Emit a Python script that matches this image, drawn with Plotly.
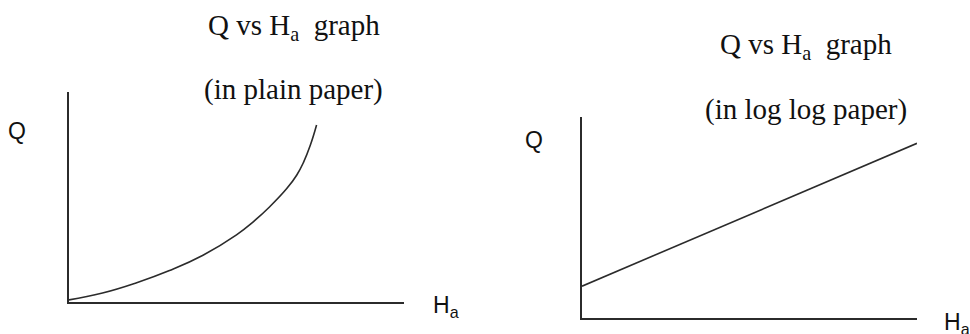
import plotly.graph_objects as go

# Discharge Q against head H_a, drawn on plain paper (curve) and on log-log paper (straight line)
plain_head = [0.0, 1.0, 2.0, 3.0, 4.0, 5.0, 5.5, 6.0, 6.5, 6.8, 7.0, 7.2, 7.39]
plain_discharge = [0.10, 0.43, 0.91, 1.50, 2.23, 3.20, 3.82, 4.55, 5.40, 6.05, 6.65, 7.45, 8.43]

loglog_head = [1.0, 10.0]
loglog_discharge = [1.44, 7.40]

W, H = 970, 334
INK = "#2b2b2b"
SERIF = "Liberation Serif, Times New Roman, serif"
SANS = "Liberation Sans, Arial, sans-serif"


def px_x(x):
    return x / W


def px_y(y):
    return 1 - y / H


fig = go.Figure()

fig.add_trace(go.Scatter(
    x=plain_head, y=plain_discharge, mode="lines",
    line=dict(color=INK, width=1.6, shape="spline", smoothing=1.3),
    xaxis="x", yaxis="y", hoverinfo="skip", showlegend=False,
))
fig.add_trace(go.Scatter(
    x=loglog_head, y=loglog_discharge, mode="lines",
    line=dict(color=INK, width=1.6),
    xaxis="x2", yaxis="y2", hoverinfo="skip", showlegend=False,
))

bare = dict(showgrid=False, zeroline=False, showticklabels=False, ticks="",
            showline=True, linecolor=INK, linewidth=2, mirror=False, fixedrange=True)

fig.update_layout(
    width=W, height=H, autosize=False,
    margin=dict(l=0, r=0, t=0, b=0, pad=0),
    paper_bgcolor="white", plot_bgcolor="white",
    xaxis=dict(domain=[px_x(69), px_x(404)], range=[0, 10], anchor="y", **bare),
    yaxis=dict(domain=[px_y(302), px_y(92)], range=[0, 10], anchor="x", **bare),
    xaxis2=dict(domain=[px_x(582), px_x(917)], type="log", range=[0, 1], anchor="y2", **bare),
    yaxis2=dict(domain=[px_y(318), px_y(117)], type="log", range=[0, 1], anchor="x2", **bare),
)

labels = [
    # titles
    ("Q vs H<sub>a</sub>\u00a0\u00a0graph", 294, 27, SERIF, 29),
    ("(in plain paper)", 293, 89, SERIF, 29),
    ("Q vs H<sub>a</sub>\u00a0\u00a0graph", 806, 46, SERIF, 29),
    ("(in log log paper)", 806, 109, SERIF, 29),
    # axis labels
    ("Q", 17, 131, SANS, 23),
    ("H<sub>a</sub>", 446, 306, SANS, 23),
    ("Q", 534, 140, SANS, 23),
    ("H<sub>a</sub>", 957, 323, SANS, 23),
]
for text, x, y, family, size in labels:
    fig.add_annotation(
        text=text, x=px_x(x), y=px_y(y), xref="paper", yref="paper",
        xanchor="center", yanchor="middle", showarrow=False,
        font=dict(family=family, size=size, color="#111"),
    )

fig.write_html("out.html", config={"displayModeBar": False})
